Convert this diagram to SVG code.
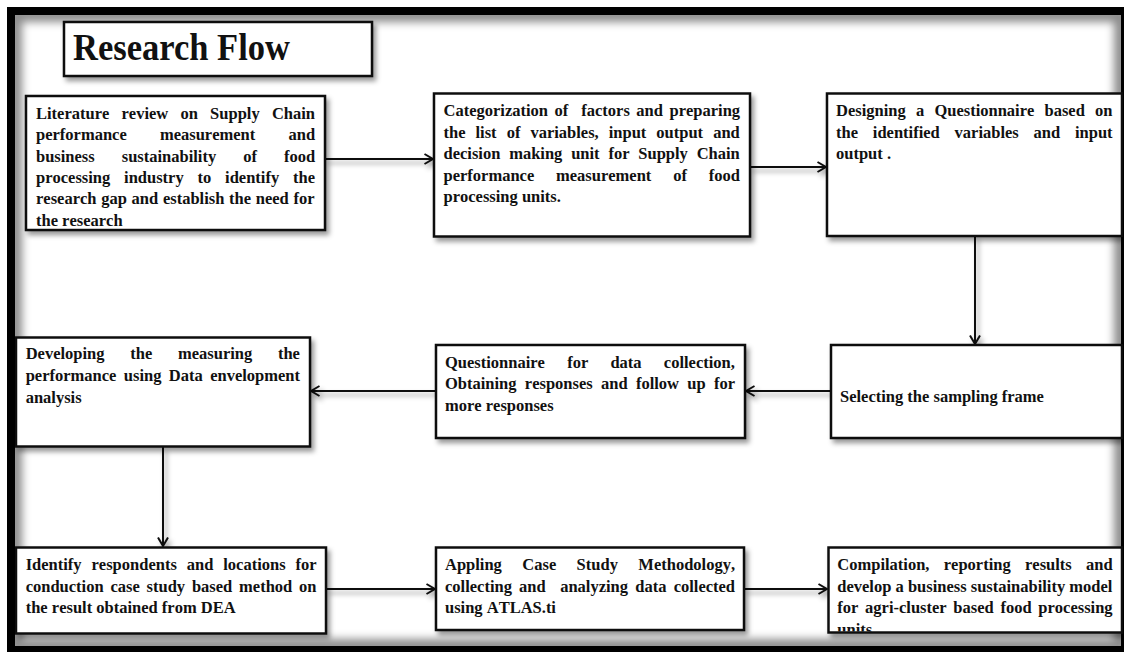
<svg xmlns="http://www.w3.org/2000/svg" width="1124" height="652" viewBox="0 0 1124 652">
  <style>
    .box { fill: #fff; stroke: #111; stroke-width: 2.5; }
    .t { font-family: "Liberation Serif", "Times New Roman", serif; font-weight: bold; font-size: 16.5px; fill: #111; font-kerning: none; font-variant-ligatures: none; }
    .title { font-family: "Liberation Serif", "Times New Roman", serif; font-weight: bold; font-size: 38px; fill: #111; }
    .conn { fill: none; stroke: #111; stroke-width: 2; }
  </style>
  <defs>
    <filter id="shadow" x="-10%" y="-10%" width="125%" height="130%">
      <feDropShadow dx="3" dy="4" stdDeviation="2.5" flood-color="#000" flood-opacity="0.4"/>
    </filter>
    <filter id="inner-blur" x="-5%" y="-5%" width="110%" height="110%">
      <feGaussianBlur stdDeviation="4"/>
    </filter>
    <clipPath id="page-clip">
      <rect x="15" y="15" width="1106" height="631"/>
    </clipPath>
    <clipPath id="clip-b9">
      <rect x="829" y="548" width="292" height="83.5"/>
    </clipPath>
    <marker id="arrow" viewBox="0 0 12 12" markerWidth="12" markerHeight="12" refX="10" refY="6" orient="auto" markerUnits="userSpaceOnUse">
      <path d="M1.5,1 L10,6 L1.5,11" fill="none" stroke="#111" stroke-width="2"/>
    </marker>
  </defs>

  <!-- page frame with inset shading -->
  <rect x="0" y="0" width="1124" height="652" fill="#fff"/>
  <rect x="7" y="7" width="1117" height="645" fill="#000"/>
  <rect x="15" y="15" width="1106" height="631" fill="#fff"/>
  <g clip-path="url(#page-clip)">
    <rect x="15" y="15" width="1106" height="631" fill="none" stroke="#000" stroke-width="14" stroke-opacity="0.45" filter="url(#inner-blur)"/>
  </g>

  <!-- connectors -->
  <g id="connectors" filter="url(#shadow)">
    <line class="conn" x1="325" y1="159" x2="433" y2="159" marker-end="url(#arrow)"/>
    <line class="conn" x1="750" y1="167" x2="826" y2="167" marker-end="url(#arrow)"/>
    <line class="conn" x1="975" y1="236" x2="975" y2="344" marker-end="url(#arrow)"/>
    <line class="conn" x1="831" y1="391" x2="746" y2="391" marker-end="url(#arrow)"/>
    <line class="conn" x1="436" y1="391" x2="311" y2="391" marker-end="url(#arrow)"/>
    <line class="conn" x1="163" y1="447" x2="163" y2="546" marker-end="url(#arrow)"/>
    <line class="conn" x1="326" y1="589" x2="435" y2="589" marker-end="url(#arrow)"/>
    <line class="conn" x1="744" y1="589" x2="827" y2="589" marker-end="url(#arrow)"/>
  </g>

  <!-- title -->
  <g id="title">
    <rect class="box" x="64" y="22" width="308" height="54" filter="url(#shadow)"/>
    <text class="title" x="73" y="60" textLength="217" lengthAdjust="spacingAndGlyphs">Research Flow</text>
  </g>

  <!-- step 1 -->
  <g id="literature-review">
    <rect class="box" x="26" y="96" width="299" height="134" filter="url(#shadow)"/>
    <text class="t" x="36" y="119" word-spacing="8.1">Literature review on Supply Chain</text>
    <text class="t" x="36" y="140.3" word-spacing="29.1">performance measurement and</text>
    <text class="t" x="36" y="161.6" word-spacing="22.9">business sustainability of food</text>
    <text class="t" x="36" y="183" word-spacing="9.7">processing industry to identify the</text>
    <text class="t" x="36" y="204.3" word-spacing="0.6">research gap and establish the need for</text>
    <text class="t" x="36" y="225.6">the research</text>
  </g>

  <!-- step 2 -->
  <g id="categorization">
    <rect class="box" x="434" y="93.5" width="316" height="143" filter="url(#shadow)"/>
    <text class="t" x="443.5" y="116" word-spacing="2.4">Categorization of&#160; factors and preparing</text>
    <text class="t" x="443.5" y="137.5" word-spacing="5.9">the list of variables, input output and</text>
    <text class="t" x="443.5" y="159" word-spacing="4.7">decision making unit for Supply Chain</text>
    <text class="t" x="443.5" y="180.5" word-spacing="17.7">performance measurement of food</text>
    <text class="t" x="443.5" y="202">processing units.</text>
  </g>

  <!-- step 3 -->
  <g id="questionnaire-design">
    <rect class="box" x="827" y="93.5" width="295" height="142.5" filter="url(#shadow)"/>
    <text class="t" x="836" y="116" word-spacing="6.1">Designing a Questionnaire based on</text>
    <text class="t" x="836" y="137.5" word-spacing="10.7">the identified variables and input</text>
    <text class="t" x="836" y="159">output .</text>
  </g>

  <!-- step 4 -->
  <g id="sampling-frame">
    <rect class="box" x="831" y="345" width="291" height="93" filter="url(#shadow)"/>
    <text class="t" x="840" y="401.7">Selecting the sampling frame</text>
  </g>

  <!-- step 5 -->
  <g id="data-collection">
    <rect class="box" x="436" y="345" width="309" height="93" filter="url(#shadow)"/>
    <text class="t" x="445" y="367.5" word-spacing="18.1">Questionnaire for data collection,</text>
    <text class="t" x="445" y="389" word-spacing="4.2">Obtaining responses and follow up for</text>
    <text class="t" x="445" y="410.5">more responses</text>
  </g>

  <!-- step 6 -->
  <g id="dea-measurement">
    <rect class="box" x="16" y="337.5" width="294" height="109" filter="url(#shadow)"/>
    <text class="t" x="25.7" y="359.3" word-spacing="21.6">Developing the measuring the</text>
    <text class="t" x="25.7" y="381" word-spacing="3.3">performance using Data envelopment</text>
    <text class="t" x="25.7" y="402.7">analysis</text>
  </g>

  <!-- step 7 -->
  <g id="identify-respondents">
    <rect class="box" x="16" y="547.5" width="310" height="86" filter="url(#shadow)"/>
    <text class="t" x="25.7" y="570" word-spacing="5.8">Identify respondents and locations for</text>
    <text class="t" x="25.7" y="591.7" word-spacing="2.7">conduction case study based method on</text>
    <text class="t" x="25.7" y="613.3">the result obtained from DEA</text>
  </g>

  <!-- step 8 -->
  <g id="case-study">
    <rect class="box" x="436" y="547.5" width="308" height="82.5" filter="url(#shadow)"/>
    <text class="t" x="445" y="570" word-spacing="16.3">Appling Case Study Methodology,</text>
    <text class="t" x="445" y="591.7" word-spacing="3.1">collecting and&#160; analyzing data collected</text>
    <text class="t" x="445" y="613.3">using ATLAS.ti</text>
  </g>

  <!-- step 9 -->
  <g id="compilation">
    <rect class="box" x="828.5" y="547.5" width="293.5" height="85" filter="url(#shadow)"/>
    <g clip-path="url(#clip-b9)">
      <text class="t" x="837.3" y="570" word-spacing="10.2">Compilation, reporting results and</text>
      <text class="t" x="837.3" y="591.7" word-spacing="0">develop a business sustainability model</text>
      <text class="t" x="837.3" y="613.3" word-spacing="2.6">for agri-cluster based food processing</text>
      <text class="t" x="837.3" y="635">units</text>
    </g>
  </g>
</svg>
